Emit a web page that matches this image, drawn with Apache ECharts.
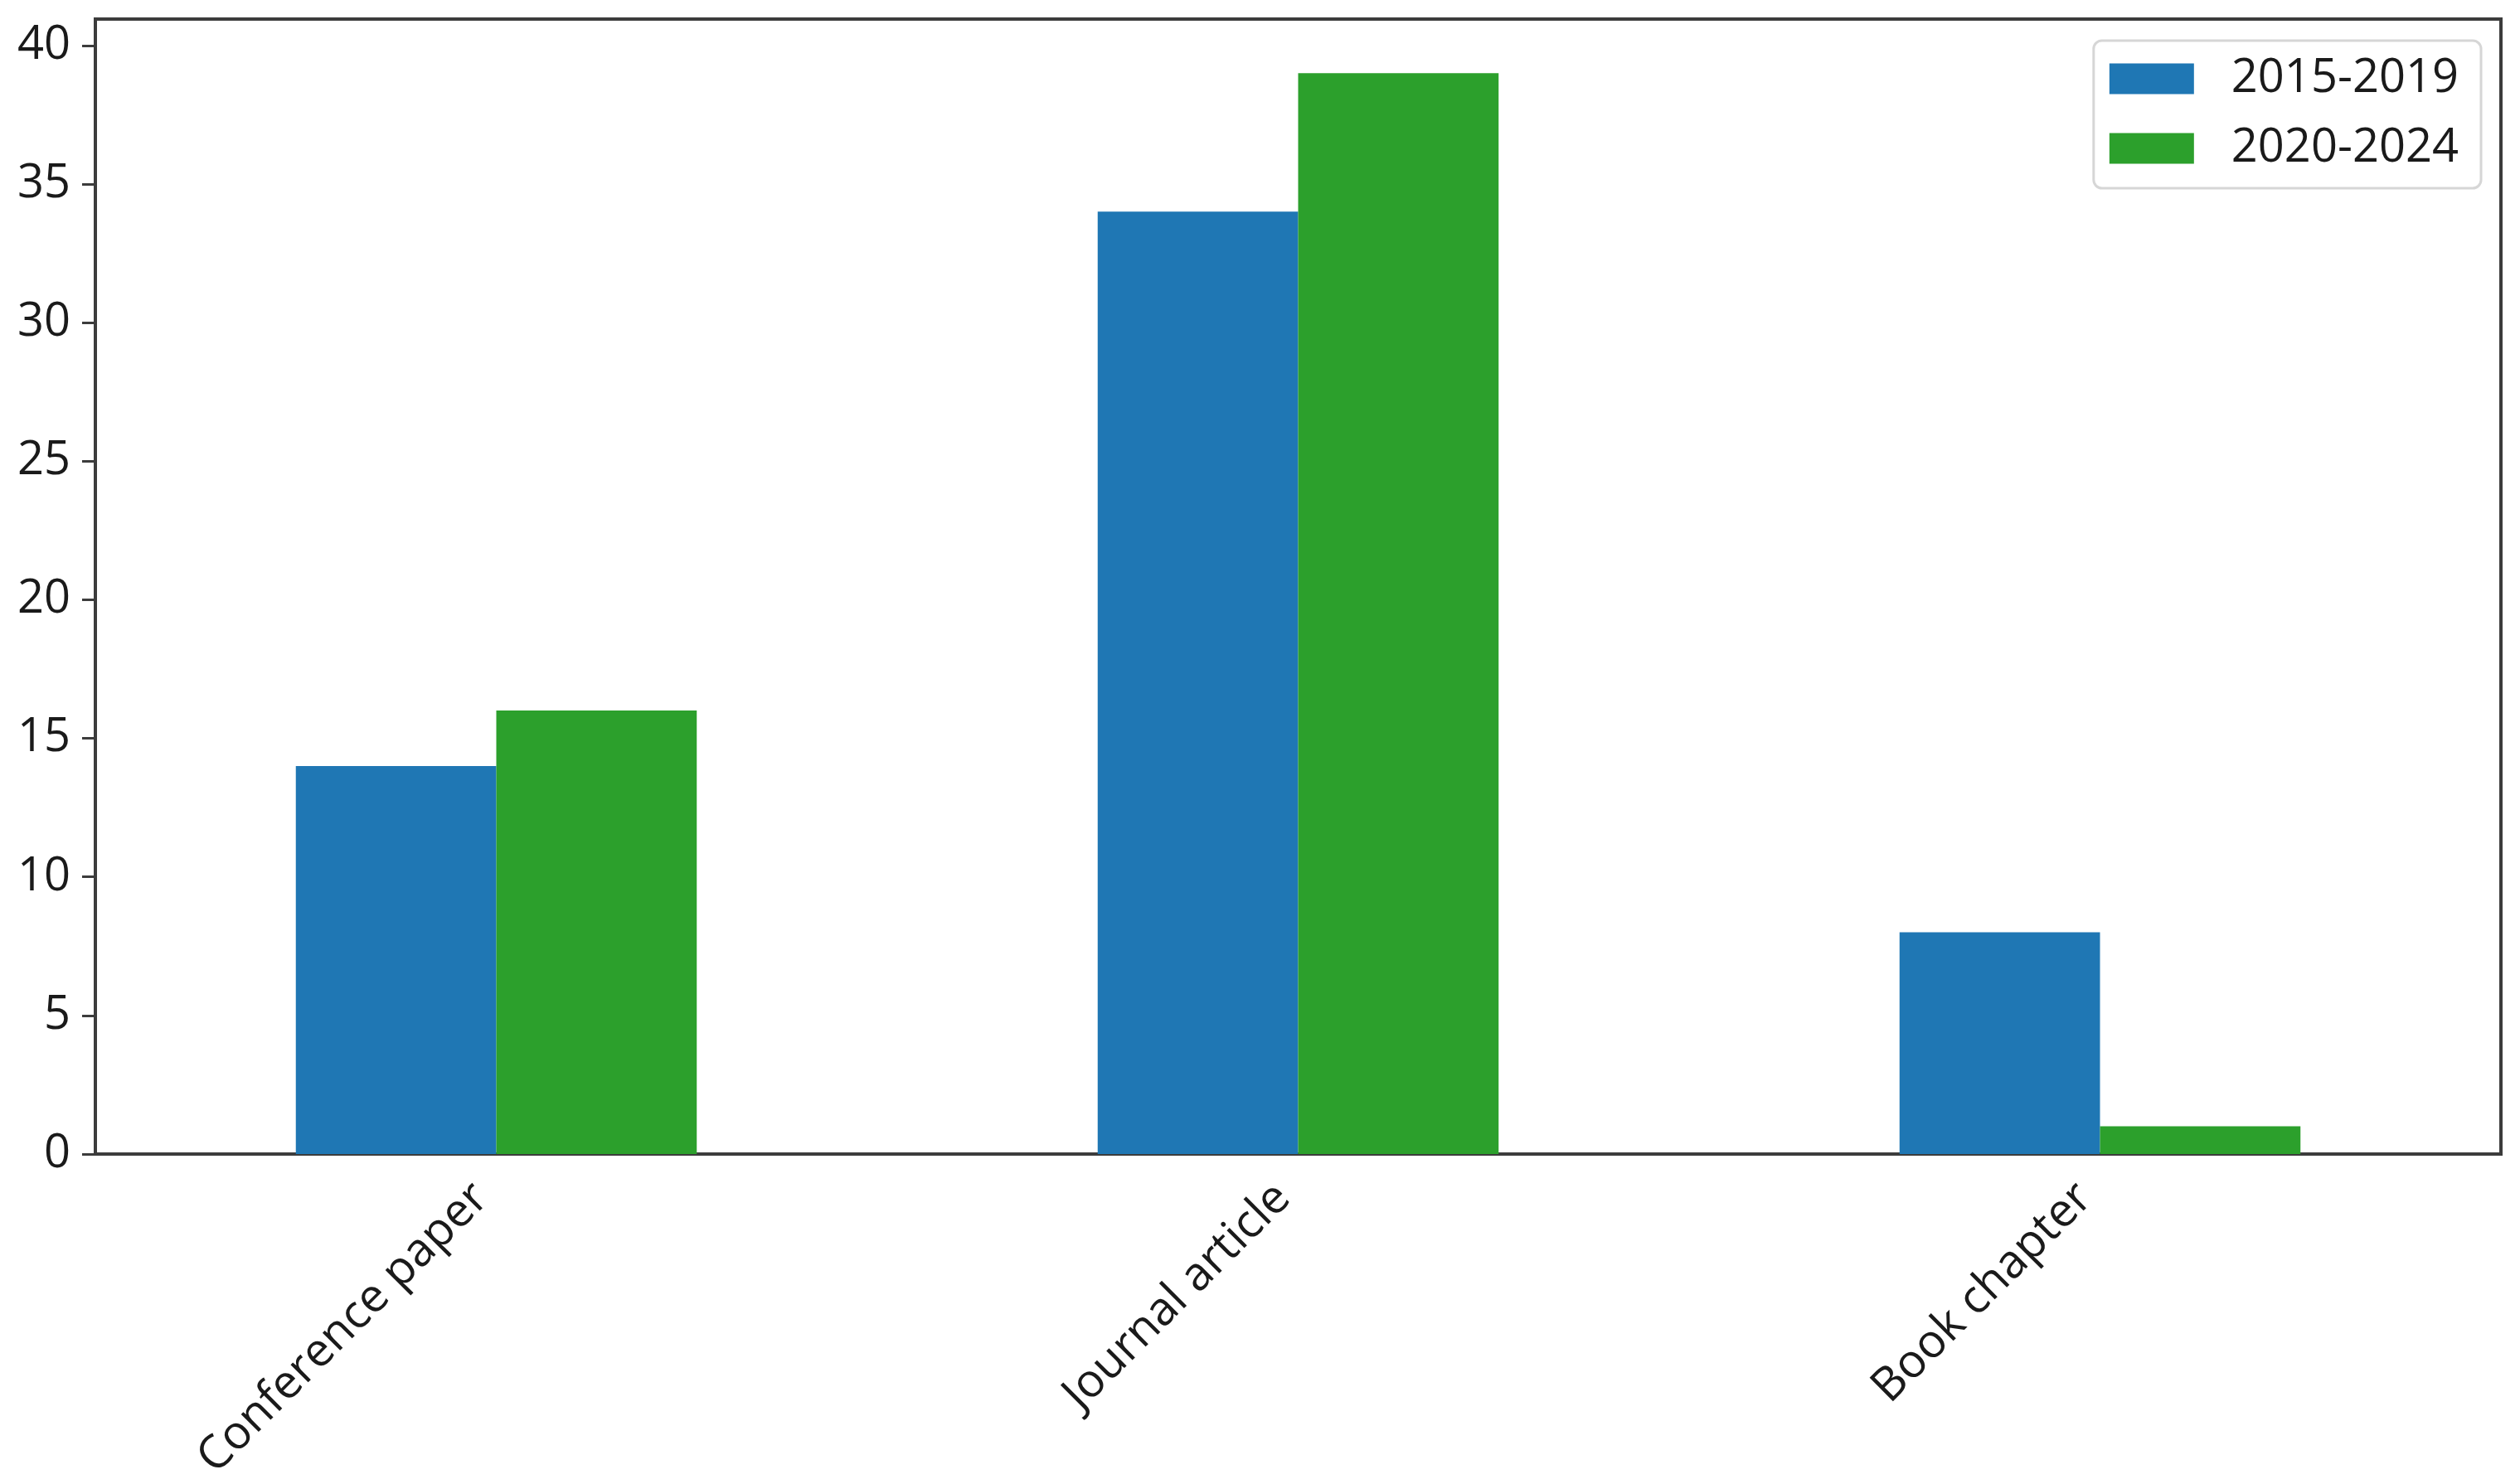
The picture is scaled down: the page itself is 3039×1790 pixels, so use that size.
<!DOCTYPE html>
<html>
<head>
<meta charset="utf-8">
<script src="https://cdn.jsdelivr.net/npm/echarts@6/dist/echarts.min.js"></script>
<style>
html,body{margin:0;padding:0;background:#fff;}
#chart{width:3039px;height:1790px;}
</style>
</head>
<body>
<div id="chart"></div>
<script>
const categories = ['Conference paper', 'Journal article', 'Book chapter'];
const seriesNames = ['2015-2019', '2020-2024'];
const values2015_2019 = [14, 34, 8];
const values2020_2024 = [16, 39, 1];
const yTicks = [0, 5, 10, 15, 20, 25, 30, 35, 40];

const FONT = '"Open Sans", "Noto Sans", sans-serif';
const AX = '#3c3c3c';

const chart = echarts.init(document.getElementById('chart'));
chart.setOption({
  backgroundColor: '#ffffff',
  animation: false,
  textStyle: { fontFamily: FONT },
  grid: {
    left: 115, right: 23, top: 23, bottom: 398,
    show: true, borderColor: AX, borderWidth: 4, backgroundColor: '#ffffff',
    containLabel: false
  },
  legend: {
    data: seriesNames,
    orient: 'vertical',
    right: 47, top: 49,
    icon: 'rect',
    itemWidth: 102, itemHeight: 37,
    itemGap: 28,
    padding: [18, 27, 20, 19],
    backgroundColor: '#ffffff',
    borderColor: '#d6d6d6', borderWidth: 3, borderRadius: 10,
    textStyle: { fontFamily: FONT, fontSize: 56, color: '#1a1a1a', padding: [0, 0, 0, 40], lineHeight: 56 }
  },
  xAxis: {
    type: 'category',
    data: categories,
    boundaryGap: true,
    axisLine: { lineStyle: { color: AX, width: 4 } },
    axisTick: { alignWithLabel: true, length: 16, lineStyle: { color: AX, width: 3 } },
    axisLabel: { rotate: 45, margin: 26, padding: [0, 26, 0, 0], fontSize: 56, color: '#1a1a1a', fontFamily: FONT, interval: 0 },
    splitLine: { show: false }
  },
  yAxis: {
    type: 'value',
    min: 0, max: 40.95, interval: 5,
    axisLine: { show: true, lineStyle: { color: AX, width: 4 } },
    axisTick: { show: true, length: 16, lineStyle: { color: AX, width: 3 } },
    axisLabel: {
      showMaxLabel: false, margin: 30, fontSize: 56, color: '#1a1a1a', fontFamily: FONT,
      formatter: function (v) { return yTicks.indexOf(v) >= 0 ? String(v) : ''; }
    },
    splitLine: { show: false }
  },
  series: [
    { name: seriesNames[0], type: 'bar', data: values2015_2019, barWidth: '25%', barGap: '0%',
      itemStyle: { color: '#1f77b4' } },
    { name: seriesNames[1], type: 'bar', data: values2020_2024, barWidth: '25%', barGap: '0%',
      itemStyle: { color: '#2ca02c' } }
  ]
});
</script>
</body>
</html>
